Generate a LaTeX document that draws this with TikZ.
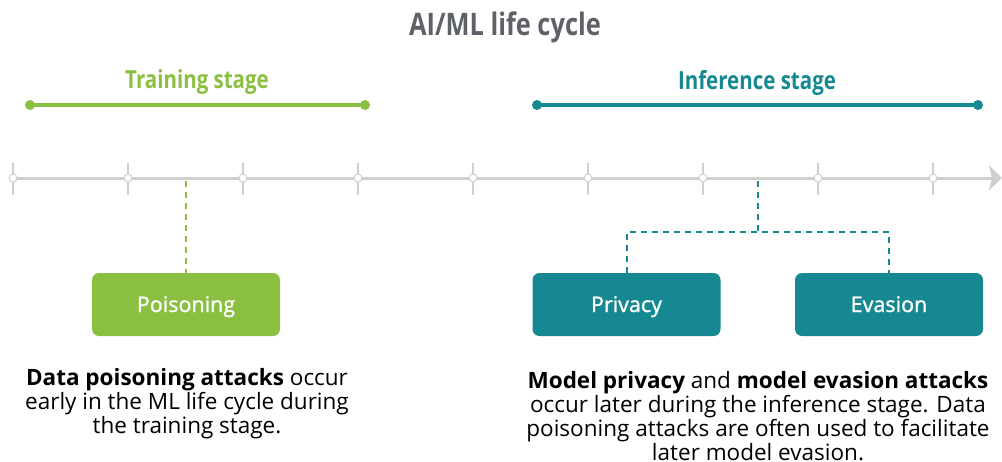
\documentclass[tikz,border=0pt]{standalone}
\usepackage{fontspec}
\setmainfont{Open Sans}
\newfontfamily\condbold[FakeStretch=0.82]{Open Sans Bold}
\newfontfamily\semibold[FakeBold=1.2]{Open Sans}
\usetikzlibrary{arrows.meta}
\definecolor{leafgreen}{HTML}{8BBF41}
\definecolor{tealblue}{HTML}{168891}
\definecolor{axisgray}{HTML}{CFCFCF}
\definecolor{titlegray}{HTML}{5F6168}
\tikzset{
  stagebar/.style={line width=4pt, line cap=round},
  stagedot/.style={circle, inner sep=0pt, minimum size=10pt},
  tickmark/.style={axisgray, line width=2pt},
  tickdot/.style={circle, draw=axisgray, fill=white, line width=1pt, inner sep=0pt, minimum size=8pt},
  attackbox/.style={rounded corners=7pt, minimum width=188pt, minimum height=63pt,
    text=white, font=\semibold\fontsize{21.5}{24}\selectfont, inner sep=0pt,
    text height=15pt, text depth=0pt},
  linker/.style={line width=2pt, dash pattern=on 6pt off 5pt},
  caption/.style={align=center, font=\fontsize{22.5}{24}\selectfont, text=black, inner sep=0pt},
  stagelabel/.style={font=\condbold\fontsize{25}{30}\selectfont, inner sep=0pt}
}
\begin{document}
\begin{tikzpicture}[x=1pt, y=-1pt]
\useasboundingbox (0,0) rectangle (1002,461);

% title
\node[font=\condbold\fontsize{31}{36}\selectfont, text=titlegray, inner sep=0pt] (title) at (505,27) {AI/ML life cycle};

% stage labels and bars
\node[stagelabel, text=leafgreen] (trainlbl) at (197,82) {Training stage};
\node[stagelabel, text=tealblue] (inferlbl) at (757,83) {Inference stage};
\node[stagedot, fill=leafgreen] (tA) at (30,105) {};
\node[stagedot, fill=leafgreen] (tB) at (365,105) {};
\node[stagedot, fill=tealblue] (iA) at (537,105) {};
\node[stagedot, fill=tealblue] (iB) at (978,105) {};
\draw[stagebar, leafgreen] (tA) -- (tB);
\draw[stagebar, tealblue] (iA) -- (iB);

% time axis
\coordinate (axL) at (11,178);
\coordinate (axR) at (1002,178);
\draw[axisgray, line width=3pt, -{Stealth[length=13pt, width=25pt, inset=3pt]}] (axL) -- (axR);
\foreach \i in {0,...,8} {
  \draw[tickmark] ({13+115*\i},163) -- ({13+115*\i},195);
  \node[tickdot] (tk\i) at ({13+115*\i},178) {};
}

% attack boxes
\node[attackbox, fill=leafgreen] (pois) at (186,304.5) {Poisoning};
\node[attackbox, fill=tealblue] (priv) at (626.5,304.5) {Privacy};
\node[attackbox, fill=tealblue] (evas) at (889,304.5) {Evasion};

% dashed links from the axis to the boxes
\coordinate (gtop) at (186,181);
\coordinate (btop) at (758,181);
\coordinate (bmid) at (758,232);
\draw[linker, leafgreen] (gtop) -- (pois.north);
\draw[linker, tealblue] (btop) -- (bmid);
\draw[linker, tealblue] (priv.north) |- (bmid) -| (evas.north);

% captions
\node[caption] (capL) at (187,404) {\textbf{Data poisoning attacks} occur\\early in the ML life cycle during\\the training stage.};
\node[caption] (capR) at (758,416) {\textbf{Model privacy} and \textbf{model evasion attacks}\\occur later during the inference stage. Data\\poisoning attacks are often used to facilitate\\later model evasion.};
\end{tikzpicture}
\end{document}
